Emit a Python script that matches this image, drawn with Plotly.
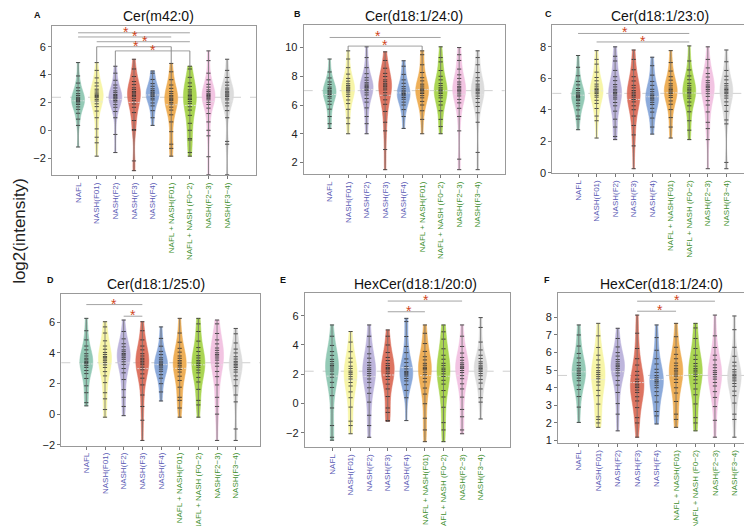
import plotly.graph_objects as go
import numpy as np

categories = ["NAFL", "NASH(F01)", "NASH(F2)", "NASH(F3)", "NASH(F4)",
              "NAFL + NASH(F01)", "NAFL + NASH (F0\u22122)", "NASH(F2\u22123)", "NASH(F3\u22124)"]
label_colors = ["#5a5ab4"] * 5 + ["#3f8f2f"] * 4
violin_colors = ["#86c3ad", "#f6f49c", "#b4abd8", "#d9614c", "#7d9fd6",
                 "#eca441", "#9fd03c", "#f1bcdf", "#d8d8d8"]

panel_titles = ["Cer(m42:0)", "Cer(d18:1/24:0)", "Cer(d18:1/23:0)",
                "Cer(d18:1/25:0)", "HexCer(d18:1/20:0)", "HexCer(d18:1/24:0)"]
panel_letters = ["A", "B", "C", "D", "E", "F"]

# values per group (log2 intensity)
A_values = [
    [-1.2, 0.35, 0.8, 1.22, 1.5, 1.68, 1.85, 1.96, 2.06, 2.13, 2.2, 2.29, 2.37, 2.5, 2.63, 2.84, 3.05, 3.39, 3.9, 4.86],
    [-1.86, -0.9, -0.5, 0.1, 0.9, 1.38, 1.7, 1.9, 2.1, 2.22, 2.34, 2.42, 2.5, 2.59, 2.68, 2.82, 2.95, 3.18, 3.4, 3.76, 4.3, 4.86],
    [-1.6, -0.3, 0.9, 1.35, 1.65, 1.84, 2.03, 2.14, 2.25, 2.33, 2.4, 2.49, 2.57, 2.7, 2.83, 3.04, 3.25, 3.59, 4.1, 4.6],
    [-2.9, -2.2, 0.0, 0.05, 0.7, 1.27, 1.65, 1.89, 2.13, 2.27, 2.41, 2.5, 2.6, 2.69, 2.78, 2.92, 3.05, 3.28, 3.5, 3.86, 4.4, 5.1],
    [0.35, 0.9, 1.41, 1.75, 1.96, 2.18, 2.3, 2.43, 2.52, 2.6, 2.68, 2.75, 2.86, 2.98, 3.16, 3.35, 3.65, 4.1, 4.26],
    [-1.86, -1.3, -1.0, -0.1, 0.6, 1.11, 1.45, 1.66, 1.88, 2.0, 2.13, 2.22, 2.3, 2.4, 2.49, 2.63, 2.78, 3.01, 3.25, 3.63, 4.2, 4.8],
    [-1.86, -1.6, -0.7, -0.6, 0.0, 0.5, 1.07, 1.45, 1.69, 1.93, 2.07, 2.21, 2.3, 2.4, 2.5, 2.6, 2.75, 2.9, 3.15, 3.4, 3.8, 4.4, 4.6],
    [-3.2, -1.9, -0.4, 0.0, 0.6, 1.2, 1.59, 1.85, 2.01, 2.18, 2.27, 2.37, 2.44, 2.5, 2.58, 2.66, 2.78, 2.9, 3.1, 3.3, 3.62, 4.1, 5.0, 5.7],
    [-3.2, -1.0, -0.8, 0.9, 1.41, 1.75, 1.96, 2.18, 2.3, 2.43, 2.52, 2.6, 2.69, 2.77, 2.9, 3.03, 3.24, 3.45, 3.79, 4.3, 5.1],
]
B_values = [
    [4.37, 4.7, 5.2, 5.71, 6.05, 6.26, 6.48, 6.6, 6.73, 6.82, 6.9, 6.97, 7.04, 7.15, 7.25, 7.43, 7.6, 7.88, 8.3, 9.2],
    [4.0, 4.7, 5.1, 5.7, 6.1, 6.35, 6.6, 6.75, 6.9, 7.0, 7.1, 7.18, 7.25, 7.36, 7.48, 7.66, 7.85, 8.15, 8.6, 9.2, 9.77],
    [4.0, 4.7, 5.2, 5.8, 6.2, 6.45, 6.7, 6.85, 7.0, 7.1, 7.2, 7.27, 7.34, 7.45, 7.55, 7.73, 7.9, 8.18, 8.6, 9.3, 10.05],
    [1.5, 2.9, 4.2, 4.8, 5.55, 6.05, 6.36, 6.68, 6.86, 7.05, 7.18, 7.3, 7.39, 7.48, 7.62, 7.75, 7.98, 8.2, 8.56, 9.1, 9.7],
    [4.37, 5.2, 5.68, 6.0, 6.2, 6.4, 6.52, 6.64, 6.72, 6.8, 6.9, 6.99, 7.13, 7.28, 7.51, 7.75, 8.13, 8.7, 9.08],
    [4.0, 5.0, 5.6, 6.0, 6.25, 6.5, 6.65, 6.8, 6.9, 7.0, 7.09, 7.18, 7.32, 7.45, 7.68, 7.9, 8.26, 8.8, 9.5, 9.77],
    [4.0, 4.5, 5.0, 5.6, 6.0, 6.25, 6.5, 6.65, 6.8, 6.9, 7.0, 7.1, 7.2, 7.35, 7.5, 7.75, 8.0, 8.4, 9.0, 9.3, 10.05],
    [1.5, 2.23, 4.2, 5.2, 5.77, 6.15, 6.39, 6.63, 6.77, 6.91, 7.0, 7.1, 7.2, 7.3, 7.45, 7.6, 7.85, 8.1, 8.5, 9.1, 9.5, 10.0],
    [1.5, 2.7, 4.8, 5.46, 5.9, 6.18, 6.45, 6.62, 6.78, 6.89, 7.0, 7.09, 7.18, 7.32, 7.45, 7.68, 7.9, 8.26, 8.8, 9.3, 9.77],
]
C_values = [
    [2.73, 3.4, 3.6, 3.99, 4.25, 4.41, 4.58, 4.67, 4.77, 4.84, 4.9, 4.99, 5.08, 5.22, 5.35, 5.58, 5.8, 6.16, 6.7, 7.45],
    [2.2, 3.3, 3.6, 4.08, 4.4, 4.6, 4.8, 4.92, 5.04, 5.12, 5.2, 5.29, 5.37, 5.5, 5.63, 5.84, 6.05, 6.39, 6.9, 7.2, 7.76],
    [2.1, 2.3, 2.9, 3.4, 3.91, 4.25, 4.46, 4.68, 4.8, 4.93, 5.02, 5.1, 5.2, 5.3, 5.45, 5.6, 5.85, 6.1, 6.5, 7.1, 7.4, 8.0],
    [0.25, 1.7, 2.4, 3.0, 3.6, 4.0, 4.25, 4.5, 4.65, 4.8, 4.9, 5.0, 5.11, 5.22, 5.39, 5.55, 5.83, 6.1, 6.54, 7.2, 7.8],
    [2.45, 2.9, 3.47, 3.85, 4.09, 4.33, 4.47, 4.61, 4.7, 4.8, 4.9, 5.0, 5.15, 5.3, 5.55, 5.8, 6.2, 6.8, 7.34],
    [2.2, 2.9, 3.5, 4.01, 4.35, 4.56, 4.78, 4.9, 5.03, 5.12, 5.2, 5.29, 5.38, 5.52, 5.65, 5.88, 6.1, 6.46, 7.0, 7.76],
    [2.1, 2.7, 3.3, 3.87, 4.25, 4.49, 4.73, 4.87, 5.01, 5.1, 5.2, 5.3, 5.39, 5.53, 5.68, 5.91, 6.15, 6.53, 7.1, 8.06],
    [0.25, 2.1, 2.8, 3.2, 3.86, 4.3, 4.58, 4.85, 5.02, 5.18, 5.29, 5.4, 5.49, 5.58, 5.72, 5.85, 6.08, 6.3, 6.66, 7.2, 8.0],
    [0.25, 0.65, 3.1, 3.35, 3.9, 4.27, 4.5, 4.74, 4.88, 5.02, 5.11, 5.2, 5.29, 5.38, 5.52, 5.66, 5.9, 6.13, 6.5, 7.05, 7.8],
]
D_values = [
    [0.54, 0.75, 1.4, 1.85, 2.33, 2.65, 2.85, 3.05, 3.17, 3.29, 3.37, 3.45, 3.55, 3.65, 3.8, 3.95, 4.2, 4.45, 4.85, 5.45, 6.26],
    [-0.2, 0.3, 1.0, 1.4, 2.06, 2.5, 2.78, 3.05, 3.22, 3.38, 3.49, 3.6, 3.69, 3.77, 3.9, 4.03, 4.24, 4.45, 4.79, 5.3, 5.7, 6.04],
    [-0.1, 0.5, 1.1, 1.6, 2.26, 2.7, 2.98, 3.25, 3.42, 3.58, 3.69, 3.8, 3.88, 3.96, 4.08, 4.2, 4.4, 4.6, 4.92, 5.4, 6.15],
    [-1.72, -0.4, 0.5, 1.25, 1.91, 2.35, 2.63, 2.9, 3.07, 3.23, 3.34, 3.45, 3.55, 3.65, 3.8, 3.95, 4.2, 4.45, 4.85, 5.45, 6.04],
    [0.86, 1.45, 1.99, 2.35, 2.58, 2.8, 2.94, 3.07, 3.16, 3.25, 3.34, 3.42, 3.55, 3.68, 3.89, 4.1, 4.44, 4.95, 5.7],
    [-0.2, 0.4, 0.9, 1.1, 1.76, 2.2, 2.48, 2.75, 2.92, 3.08, 3.19, 3.3, 3.4, 3.5, 3.65, 3.8, 4.05, 4.3, 4.7, 5.3, 6.26],
    [-0.2, 0.6, 0.9, 1.62, 2.1, 2.4, 2.7, 2.88, 3.06, 3.18, 3.3, 3.4, 3.51, 3.67, 3.82, 4.09, 4.35, 4.77, 5.4, 5.9, 6.26],
    [-1.72, 0.0, 0.5, 1.1, 1.91, 2.45, 2.79, 3.13, 3.33, 3.53, 3.67, 3.8, 3.9, 4.01, 4.17, 4.32, 4.59, 4.85, 5.27, 5.9, 6.15],
    [-1.72, -0.97, 0.8, 1.25, 1.85, 2.25, 2.5, 2.75, 2.9, 3.05, 3.15, 3.25, 3.35, 3.45, 3.6, 3.75, 4.0, 4.25, 4.65, 5.25, 5.6],
]
E_values = [
    [-2.5, -2.3, -1.5, -0.3, 0.54, 1.1, 1.45, 1.8, 2.01, 2.22, 2.36, 2.5, 2.6, 2.71, 2.87, 3.02, 3.29, 3.55, 3.97, 4.6, 5.37],
    [-2.06, -1.5, -1.2, -0.24, 0.4, 0.8, 1.2, 1.44, 1.68, 1.84, 2.0, 2.11, 2.22, 2.39, 2.55, 2.83, 3.1, 3.54, 4.2, 4.92],
    [-2.3, -1.5, -0.8, 0.1, 0.7, 1.08, 1.45, 1.68, 1.9, 2.05, 2.2, 2.32, 2.44, 2.62, 2.8, 3.1, 3.4, 3.88, 4.6, 5.37],
    [-1.2, -1.16, -0.6, -0.3, 0.48, 1.0, 1.33, 1.65, 1.85, 2.04, 2.17, 2.3, 2.39, 2.47, 2.6, 2.73, 2.94, 3.15, 3.49, 4.0, 4.6, 5.03],
    [-1.16, 0.4, 0.9, 1.29, 1.55, 1.71, 1.88, 1.97, 2.07, 2.14, 2.2, 2.37, 2.54, 2.8, 3.05, 3.48, 3.9, 4.58, 5.6, 5.82],
    [-2.6, -1.8, -1.0, -0.01, 0.65, 1.06, 1.48, 1.72, 1.97, 2.14, 2.3, 2.39, 2.48, 2.62, 2.75, 2.98, 3.2, 3.56, 4.1, 4.8, 5.37],
    [-2.6, -1.8, -1.3, -0.25, 0.45, 0.89, 1.33, 1.59, 1.85, 2.03, 2.2, 2.31, 2.42, 2.59, 2.75, 3.03, 3.3, 3.74, 4.4, 4.9, 5.37],
    [-2.06, -1.8, -0.9, -0.4, 0.44, 1.0, 1.35, 1.7, 1.91, 2.12, 2.26, 2.4, 2.48, 2.55, 2.66, 2.78, 2.96, 3.15, 3.45, 3.9, 4.6, 5.37],
    [-1.05, 0.1, 0.4, 1.0, 1.4, 1.65, 1.9, 2.05, 2.2, 2.3, 2.4, 2.49, 2.58, 2.72, 2.85, 3.08, 3.3, 3.66, 4.2, 5.2, 5.87],
]
F_values = [
    [2.03, 2.9, 3.5, 3.9, 4.15, 4.4, 4.55, 4.7, 4.8, 4.9, 5.0, 5.11, 5.27, 5.42, 5.69, 5.95, 6.37, 7.0, 7.57],
    [1.75, 2.0, 2.2, 2.35, 3.07, 3.55, 3.85, 4.15, 4.33, 4.51, 4.63, 4.75, 4.86, 4.97, 5.14, 5.3, 5.58, 5.85, 6.29, 6.95, 7.66],
    [1.55, 2.5, 3.1, 3.73, 4.15, 4.41, 4.68, 4.84, 4.99, 5.1, 5.2, 5.28, 5.36, 5.48, 5.6, 5.8, 6.0, 6.32, 6.8, 7.38],
    [1.19, 2.0, 2.3, 2.87, 3.25, 3.49, 3.73, 3.87, 4.01, 4.1, 4.2, 4.35, 4.49, 4.71, 4.93, 5.29, 5.65, 6.23, 7.1, 8.13],
    [1.94, 2.4, 2.65, 3.19, 3.55, 3.78, 4.0, 4.14, 4.27, 4.36, 4.45, 4.57, 4.69, 4.87, 5.05, 5.35, 5.65, 6.13, 6.85, 7.57],
    [1.75, 2.2, 2.5, 3.22, 3.7, 4.0, 4.3, 4.48, 4.66, 4.78, 4.9, 5.0, 5.1, 5.25, 5.4, 5.65, 5.9, 6.3, 6.9, 7.66],
    [1.55, 2.0, 2.3, 3.08, 3.6, 3.93, 4.25, 4.45, 4.64, 4.77, 4.9, 5.0, 5.09, 5.23, 5.38, 5.61, 5.85, 6.23, 6.8, 7.4, 7.66],
    [1.19, 2.15, 2.93, 3.45, 3.78, 4.1, 4.3, 4.49, 4.62, 4.75, 4.86, 4.97, 5.14, 5.3, 5.58, 5.85, 6.29, 6.95, 8.13],
    [1.19, 2.2, 2.5, 3.13, 3.55, 3.81, 4.08, 4.24, 4.39, 4.5, 4.6, 4.69, 4.77, 4.9, 5.03, 5.24, 5.45, 5.79, 6.3, 7.3, 8.08],
]
panel_values = [A_values, B_values, C_values, D_values, E_values, F_values]

# significant pairs: (group i, group j, bracket level, star position)
A_sig = [(0, 6, 7.0, 2.55), (0, 5, 6.7, 3.05), (1, 6, 6.36, 3.6), (1, 5, 6.0, 3.1), (2, 6, 5.7, 4.0)]
B_sig = [(0, 6, 10.7, 2.6), (1, 5, 10.1, 3.0)]
C_sig = [(0, 6, 8.85, 2.55), (1, 6, 8.31, 3.5)]
D_sig = [(0, 3, 7.16, 1.48), (2, 3, 6.4, 2.5)]
E_sig = [(3, 7, 7.0, 5.08), (3, 5, 6.27, 4.12)]
F_sig = [(3, 7, 8.92, 5.03), (3, 5, 8.35, 4.17)]
panel_sig = [A_sig, B_sig, C_sig, D_sig, E_sig, F_sig]
drop_brackets = {(0, 3), (0, 4), (1, 1)}

y_ranges = [[-3.24, 7.5], [1.17, 11.6], [-0.03, 9.38], [-2.05, 7.88], [-2.97, 7.58], [0.87, 9.41]]
y_ticks = [[-2, 0, 2, 4, 6], [2, 4, 6, 8, 10], [0, 2, 4, 6, 8], [-2, 0, 2, 4, 6],
           [-2, 0, 2, 4, 6], [1, 2, 3, 4, 5, 6, 7, 8]]
x_ranges = [[-1.4, 9.55], [-1.4, 9.46], [-1.39, 9.6], [-1.34, 9.3], [-1.47, 9.58], [-1.07, 9.24]]

W, H = 752, 526
# plot boxes in pixels (left, right, top, bottom)
boxes = [(44, 248, 18, 169), (295.7, 496.7, 16.7, 168), (544.3, 748, 17.3, 166.7),
         (53.3, 252, 288.3, 441.7), (296.7, 502, 287.3, 443.3), (550, 750.5, 287.3, 439)]
title_pos = [(150, 8), (406, 8), (652, 8), (148, 279), (407, 279), (653, 279)]
letter_pos = [(29, 7), (289, 6), (540, 6), (42, 275), (275, 275), (539, 275)]

FONT = "Liberation Sans, Arial, sans-serif"
fig = go.Figure()
layout = dict(width=W, height=H, margin=dict(l=0, r=0, t=0, b=0),
              paper_bgcolor="white", plot_bgcolor="white", showlegend=False,
              violinmode="overlay", font=dict(family=FONT, color="#222"))
shapes, annotations = [], []
ticktext = ["<span style='color:%s'>%s</span>" % (c, t) for t, c in zip(categories, label_colors)]

for p in range(6):
    sfx = "" if p == 0 else str(p + 1)
    xa, ya = "x" + sfx, "y" + sfx
    vals = panel_values[p]
    l, r, t, b = boxes[p]
    layout["xaxis" + sfx] = dict(domain=[l / W, r / W], anchor=ya, range=x_ranges[p],
                                 tickvals=list(range(len(categories))), ticktext=ticktext,
                                 tickangle=-90, tickfont=dict(size=8), ticks="outside",
                                 ticklen=3, tickcolor="#777", showline=True, linecolor="#999",
                                 linewidth=1, mirror=True, showgrid=False, zeroline=False)
    layout["yaxis" + sfx] = dict(domain=[1 - b / H, 1 - t / H], anchor=xa, range=y_ranges[p],
                                 tickvals=y_ticks[p], tickfont=dict(size=11, color="#222"),
                                 ticks="outside", ticklen=3, tickcolor="#777", showline=True,
                                 linecolor="#999", linewidth=1, mirror=True, showgrid=False,
                                 zeroline=False)
    # overall level dashed line
    allv = np.concatenate([np.array(v, dtype=float) for v in vals])
    gm = float(np.median(allv))
    shapes.append(dict(type="line", xref=xa + " domain", yref=ya, x0=0, x1=1, y0=gm, y1=gm,
                       line=dict(color="#c4c4c4", width=0.8, dash="dash"), layer="below"))
    # range lines (min..max of each group)
    lx, ly = [], []
    for i, v in enumerate(vals):
        lx += [i, i, None]
        ly += [min(v), max(v), None]
    fig.add_trace(go.Scatter(x=lx, y=ly, mode="lines", line=dict(color="#6e6e6e", width=0.8),
                             xaxis=xa, yaxis=ya, hoverinfo="skip"))
    for i, v in enumerate(vals):
        fig.add_trace(go.Violin(x=[i] * len(v), y=v, xaxis=xa, yaxis=ya, width=0.7,
                                spanmode="hard", fillcolor=violin_colors[i], opacity=0.88,
                                line=dict(color=violin_colors[i], width=0.5),
                                meanline=dict(visible=True, color="rgba(225,225,225,0.8)", width=1),
                                points="all", pointpos=0, jitter=0,
                                marker=dict(symbol="line-ew", size=3, color="black",
                                            line=dict(color="rgba(0,0,0,0.8)", width=1)),
                                hoverinfo="skip"))
    # significance brackets
    for k, (i, j, yl, sx) in enumerate(panel_sig[p]):
        shapes.append(dict(type="line", xref=xa, yref=ya, x0=i, x1=j, y0=yl, y1=yl,
                           line=dict(color="#8c8c8c", width=0.8)))
        if (p, k) in drop_brackets:
            for g in (i, j):
                shapes.append(dict(type="line", xref=xa, yref=ya, x0=g, x1=g, y0=yl,
                                   y1=max(vals[g]), line=dict(color="#6e6e6e", width=0.8)))
        annotations.append(dict(text="*", x=sx, y=yl, xref=xa, yref=ya, showarrow=False,
                                yanchor="middle", yshift=1,
                                font=dict(size=14, color="#d0461c", family=FONT)))
    tx, ty = title_pos[p]
    annotations.append(dict(text=panel_titles[p], x=tx / W, y=1 - ty / H, xref="paper",
                            yref="paper", showarrow=False, xanchor="center", yanchor="middle",
                            font=dict(size=14, color="#111")))
    lx0, ly0 = letter_pos[p]
    annotations.append(dict(text="<b>%s</b>" % panel_letters[p], x=lx0 / W, y=1 - ly0 / H,
                            xref="paper", yref="paper", showarrow=False, xanchor="center",
                            yanchor="middle", font=dict(size=9, color="#111")))

annotations.append(dict(text="log2(intensity)", x=12 / W, y=1 - 225 / H, xref="paper",
                        yref="paper", showarrow=False, textangle=-90, xanchor="center",
                        yanchor="middle", font=dict(size=17, color="#222")))
layout["shapes"] = shapes
layout["annotations"] = annotations
fig.update_layout(**layout)
fig.write_html("out.html")
